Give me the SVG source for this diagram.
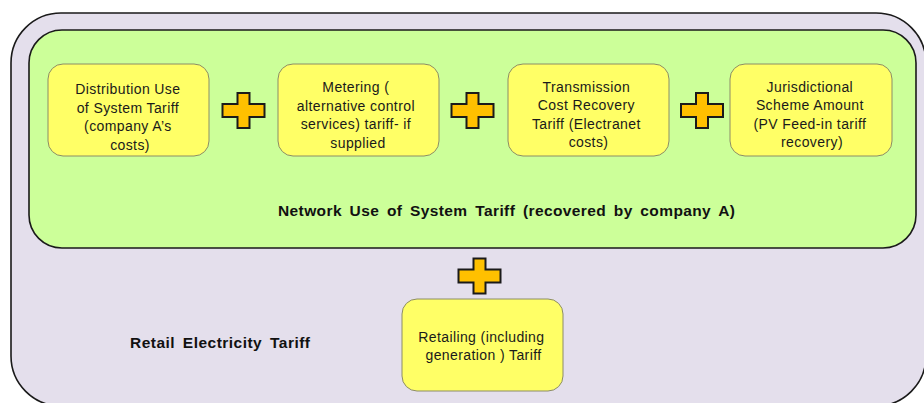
<svg xmlns="http://www.w3.org/2000/svg" xmlns:xlink="http://www.w3.org/1999/xlink" width="924" height="403" viewBox="0 0 924 403">
  <style>
    .outer { fill: #E4DFEC; stroke: #1a1a1a; stroke-width: 1.6; }
    .inner { fill: #CCFF99; stroke: #1a1a1a; stroke-width: 1.6; }
    .box { fill: #FFFF66; stroke: #8c8c66; stroke-width: 1; }
    .plus { fill: #FFC000; stroke: #1a1a1a; stroke-width: 2; stroke-linejoin: miter; }
    .lbl { font-family: "Liberation Sans", Arial, sans-serif; font-size: 14px; fill: #1a1a1a; text-anchor: middle; letter-spacing: 0.4px; }
    .title { font-family: "Liberation Sans", Arial, sans-serif; font-size: 15.5px; font-weight: bold; fill: #111; word-spacing: 3px; }
  </style>
  <defs>
    <!-- plus sign centred on the origin -->
    <path id="plus" class="plus" d="M -6 -17.5 H 6 V -6.5 H 21 V 6.5 H 6 V 17.5 H -6 V 6.5 H -21 V -6.5 H -6 Z"/>
  </defs>

  <!-- retail tariff container -->
  <g id="retail-tariff">
    <rect class="outer" x="11" y="13" width="915" height="393" rx="50" ry="50"/>
    <text class="title" x="130" y="348.3" textLength="180" lengthAdjust="spacing">Retail Electricity Tariff</text>
  </g>

  <!-- network tariff container -->
  <g id="network-tariff">
    <rect class="inner" x="29" y="30" width="887" height="218" rx="33" ry="33"/>
    <text class="title" x="278" y="215.7" textLength="457" lengthAdjust="spacing">Network Use of System Tariff (recovered by company A)</text>
  </g>

  <g id="duos">
    <rect class="box" x="48" y="64" width="161" height="92" rx="15" ry="15"/>
    <text class="lbl">
      <tspan x="130" y="94">Distribution Use</tspan>
      <tspan x="130" y="112.5">of System Tariff</tspan>
      <tspan x="130" y="131">(company A’s</tspan>
      <tspan x="130" y="149.5">costs)</tspan>
    </text>
  </g>

  <g id="metering">
    <rect class="box" x="278" y="64" width="161" height="92" rx="15" ry="15"/>
    <text class="lbl">
      <tspan x="358" y="92">Metering (</tspan>
      <tspan x="358" y="110.5">alternative control</tspan>
      <tspan x="358" y="129">services) tariff- if</tspan>
      <tspan x="358" y="147.5">supplied</tspan>
    </text>
  </g>

  <g id="transmission">
    <rect class="box" x="508" y="64" width="161" height="92" rx="15" ry="15"/>
    <text class="lbl">
      <tspan x="588.5" y="91.5">Transmission</tspan>
      <tspan x="588.5" y="110">Cost Recovery</tspan>
      <tspan x="588.5" y="128.5">Tariff (Electranet</tspan>
      <tspan x="588.5" y="147">costs)</tspan>
    </text>
  </g>

  <g id="jurisdictional">
    <rect class="box" x="730" y="64" width="162" height="92" rx="15" ry="15"/>
    <text class="lbl">
      <tspan x="812" y="91.5">Jurisdictional</tspan>
      <tspan x="812" y="110">Scheme Amount</tspan>
      <tspan x="812" y="128.5">(PV Feed-in tariff</tspan>
      <tspan x="812" y="147">recovery)</tspan>
    </text>
  </g>

  <g id="retailing">
    <rect class="box" x="402" y="299" width="161" height="92" rx="15" ry="15"/>
    <text class="lbl">
      <tspan x="483.5" y="341.5">Retailing (including</tspan>
      <tspan x="483.5" y="360">generation ) Tariff</tspan>
    </text>
  </g>

  <!-- plus signs joining the components -->
  <g id="connectors">
    <use xlink:href="#plus" href="#plus" x="243.5" y="110.5"/>
    <use xlink:href="#plus" href="#plus" x="472.5" y="110.5"/>
    <use xlink:href="#plus" href="#plus" x="702" y="110.5"/>
    <use xlink:href="#plus" href="#plus" x="479.5" y="276"/>
  </g>
</svg>
